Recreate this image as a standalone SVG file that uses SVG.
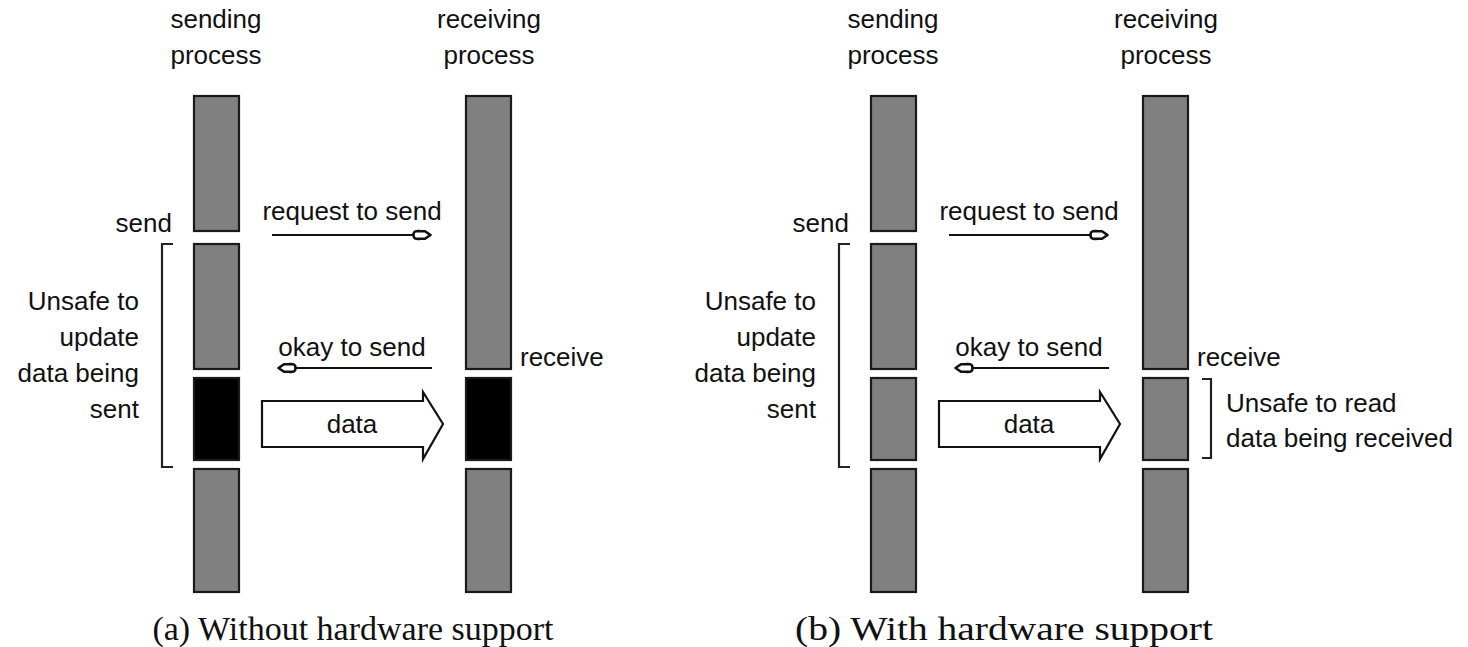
<svg xmlns="http://www.w3.org/2000/svg" width="1468" height="647" viewBox="0 0 1468 647">
<style>
.bar{fill:#808080;stroke:#1a1a1a;stroke-width:2.2}
.blk{fill:#000;stroke:#1a1a1a;stroke-width:2.2}
.t{font-family:"Liberation Sans",Arial,sans-serif;font-size:26px;fill:#111}
.c{font-family:"Liberation Serif","Times New Roman",serif;font-size:34px;fill:#111}
.ln{stroke:#111;stroke-width:2;fill:none}
.br{stroke:#222;stroke-width:2.2;fill:none}
.da{fill:#fff;stroke:#111;stroke-width:2.2;stroke-linejoin:miter}
</style>
<defs>
<marker id="ah" markerUnits="userSpaceOnUse" markerWidth="22" markerHeight="14" viewBox="0 0 22 14" refX="20" refY="7" orient="auto">
<path d="M2.5,7 C2.5,2.5 6,3 9,3.2 L14,3.2 L19.5,7 L14,10.8 L9,10.8 C6,11 2.5,11.5 2.5,7 Z" fill="#fff" stroke="#111" stroke-width="2.6" stroke-linejoin="round"/>
</marker>
</defs>
<g id="panel-a">
<g id="a-sending">
<text class="t" x="216" y="28" text-anchor="middle">sending</text>
<text class="t" x="216" y="64" text-anchor="middle">process</text>
<rect class="bar" x="194" y="96" width="45" height="135"/>
<rect class="bar" x="194" y="244" width="45" height="125"/>
<rect class="blk" x="194" y="378" width="45" height="82"/>
<rect class="bar" x="194" y="469" width="45" height="123"/>
<text class="t" x="172" y="232" text-anchor="end">send</text>
</g>
<g id="a-receiving">
<text class="t" x="489" y="28" text-anchor="middle">receiving</text>
<text class="t" x="489" y="64" text-anchor="middle">process</text>
<rect class="bar" x="466" y="96" width="45" height="273"/>
<rect class="blk" x="466" y="378" width="45" height="82"/>
<rect class="bar" x="466" y="469" width="45" height="123"/>
<text class="t" x="520" y="366">receive</text>
</g>
<g id="a-unsafe">
<path class="br" d="M173,244 H162 V467 H173"/>
<text class="t" x="139" y="310" text-anchor="end">Unsafe to</text>
<text class="t" x="139" y="346" text-anchor="end">update</text>
<text class="t" x="139" y="382" text-anchor="end">data being</text>
<text class="t" x="139" y="418" text-anchor="end">sent</text>
</g>
<g id="a-connectors">
<text class="t" x="352" y="220" text-anchor="middle">request to send</text>
<line class="ln" x1="272" y1="235" x2="431" y2="235" marker-end="url(#ah)"/>
<text class="t" x="352" y="356" text-anchor="middle">okay to send</text>
<line class="ln" x1="432" y1="368" x2="278" y2="368" marker-end="url(#ah)"/>
<polygon class="da" points="262,401 423,401 423,392 443,424 423,459 423,447 262,447"/>
<text class="t" x="352" y="433" text-anchor="middle">data</text>
</g>
<text class="c" x="353" y="640" text-anchor="middle">(a) Without hardware support</text>
</g>
<g id="panel-b">
<g id="b-sending">
<text class="t" x="893" y="28" text-anchor="middle">sending</text>
<text class="t" x="893" y="64" text-anchor="middle">process</text>
<rect class="bar" x="871" y="96" width="45" height="135"/>
<rect class="bar" x="871" y="244" width="45" height="125"/>
<rect class="bar" x="871" y="378" width="45" height="82"/>
<rect class="bar" x="871" y="469" width="45" height="123"/>
<text class="t" x="849" y="232" text-anchor="end">send</text>
</g>
<g id="b-receiving">
<text class="t" x="1166" y="28" text-anchor="middle">receiving</text>
<text class="t" x="1166" y="64" text-anchor="middle">process</text>
<rect class="bar" x="1143" y="96" width="45" height="273"/>
<rect class="bar" x="1143" y="378" width="45" height="82"/>
<rect class="bar" x="1143" y="469" width="45" height="123"/>
<text class="t" x="1197" y="366">receive</text>
</g>
<g id="b-unsafe-send">
<path class="br" d="M850,244 H839 V467 H850"/>
<text class="t" x="816" y="310" text-anchor="end">Unsafe to</text>
<text class="t" x="816" y="346" text-anchor="end">update</text>
<text class="t" x="816" y="382" text-anchor="end">data being</text>
<text class="t" x="816" y="418" text-anchor="end">sent</text>
</g>
<g id="b-unsafe-read">
<path class="br" d="M1202,379 H1211 V458 H1202"/>
<text class="t" x="1226" y="412">Unsafe to read</text>
<text class="t" x="1226" y="447">data being received</text>
</g>
<g id="b-connectors">
<text class="t" x="1029" y="220" text-anchor="middle">request to send</text>
<line class="ln" x1="949" y1="235" x2="1108" y2="235" marker-end="url(#ah)"/>
<text class="t" x="1029" y="356" text-anchor="middle">okay to send</text>
<line class="ln" x1="1109" y1="368" x2="955" y2="368" marker-end="url(#ah)"/>
<polygon class="da" points="939,401 1100,401 1100,392 1120,424 1100,459 1100,447 939,447"/>
<text class="t" x="1029" y="433" text-anchor="middle">data</text>
</g>
<text class="c" x="795" y="640" textLength="418" lengthAdjust="spacingAndGlyphs">(b) With hardware support</text>
</g>
</svg>
